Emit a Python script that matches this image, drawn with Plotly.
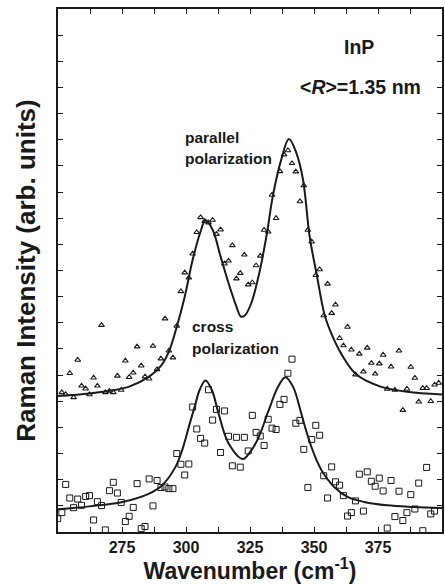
import plotly.graph_objects as go

# Raman shift grid shared by both measured spectra (cm^-1)
wavenumber = [
    249.9, 251.5, 253.0, 254.6, 256.1, 257.7, 259.2, 260.8, 262.3, 263.9,
    265.4, 267.0, 268.5, 270.1, 271.6, 273.2, 274.7, 276.3, 277.8, 279.4,
    280.9, 282.5, 284.0, 285.6, 287.1, 288.7, 290.2, 291.8, 293.3, 294.9,
    296.4, 298.0, 299.5, 301.1, 302.6, 304.2, 305.7, 307.3, 308.8, 310.4,
    311.9, 313.5, 315.0, 316.6, 318.1, 319.7, 321.2, 322.8, 324.3, 325.9,
    327.4, 329.0, 330.5, 332.1, 333.6, 335.2, 336.7, 338.3, 339.8, 341.4,
    342.9, 344.5, 346.0, 347.6, 349.1, 350.7, 352.2, 353.8, 355.3, 356.9,
    358.4, 360.0, 361.5, 363.1, 364.6, 366.2, 367.7, 369.3, 370.8, 372.4,
    373.9, 375.5, 377.0, 378.6, 380.1, 381.6, 383.2, 384.7, 386.3, 387.8,
    389.4, 390.9, 392.5, 394.0, 395.6, 397.1, 398.7,
]

# Parallel polarization spectrum (offset upward)
parallel = [
    None, 5.34, 5.26, 6.07, 5.15, 6.58, 5.59, 5.48, 5.26, 5.90,
    5.59, 7.91, 5.34, 5.39, 5.34, 5.97, 5.43, 6.55, 5.92, 6.09,
    7.09, 6.36, 5.94, 5.86, 7.11, 6.22, 6.63, 8.16, 6.93, 6.67,
    7.88, 9.20, 9.92, 9.72, 10.64, 11.46, 12.03, 11.89, 11.83, 11.93,
    11.39, 11.56, 10.26, 10.37, 10.96, 9.69, 9.90, 10.60, 9.46, 9.54,
    10.19, 10.56, 11.55, 11.48, 12.89, 12.00, 13.79, 14.43, 14.59, 14.10,
    13.78, 12.64, 13.25, 11.55, 11.10, 9.82, 10.04, 8.28, 9.49, 8.37,
    8.69, 7.41, 7.13, 7.84, 6.97, 6.02, 6.81, 6.13, 7.04, 6.46,
    6.05, 6.44, 6.77, 5.47, 6.32, 5.43, 6.93, 4.66, 5.47, 6.31,
    5.89, 4.98, 5.50, 5.50, 5.00, 5.63, 5.70,
]

# Cross polarization spectrum
cross = [
    0.51, 0.74, 1.82, 1.30, 0.93, 1.26, 1.02, 1.36, 1.39, 0.46,
    1.16, 1.01, 0.08, 1.58, 1.90, 1.49, 1.13, 0.40, 0.60, 0.94,
    1.85, 0.13, 0.21, 2.03, 1.00, 1.97, 1.70, 1.72, 1.66, 1.66,
    3.00, 2.59, 2.18, 2.60, 4.78, 3.94, 3.58, 3.40, 5.44, 4.28,
    4.69, 3.04, 4.63, 3.66, 2.53, 3.62, 2.48, 3.62, 3.10, 4.46,
    3.81, 3.67, 3.31, 4.31, 3.97, 3.92, 4.88, 5.07, 6.07, 6.61,
    4.16, 4.27, 3.16, 1.70, 3.54, 4.08, 3.70, 2.15, 1.30, 2.49,
    1.92, 1.79, 1.39, 0.61, 0.74, 1.19, 2.21, 0.80, 2.30, 1.94,
    1.75, 2.06, 1.57, 0.15, 1.97, 0.59, 1.56, 0.44, 0.74, 1.43,
    0.88, 1.87, 0.05, 2.47, 0.69, 0.80, None,
]

# Two-peak fitted line shapes
fit_par_x = [249.9, 262.3, 270.1, 277.8, 285.6, 290.2, 293.3, 296.4, 299.5, 302.6,
             305.7, 307.6, 310.4, 313.5, 316.6, 319.7, 321.4, 323.0, 325.5, 328.5,
             331.4, 334.0, 337.2, 340.2, 343.1, 345.7, 348.3, 351.1, 354.2, 357.3,
             360.5, 366.6, 376.0, 386.4, 400.0]
fit_par_y = [5.20, 5.30, 5.40, 5.56, 5.94, 6.35, 6.90, 7.85, 9.00, 10.41,
             11.49, 11.92, 11.56, 10.54, 9.52, 8.62, 8.24, 8.28, 8.75, 9.85,
             11.30, 12.89, 14.24, 15.03, 14.50, 13.48, 11.30, 9.82, 8.28, 7.47,
             6.84, 6.02, 5.56, 5.36, 5.26]

fit_crs_x = [250.0, 262.3, 275.2, 285.6, 290.7, 295.9, 298.5, 301.1, 303.7, 305.3,
             307.6, 310.1, 312.7, 316.6, 322.2, 325.0, 328.2, 332.1, 336.0, 338.8,
             341.8, 345.0, 347.0, 349.0, 351.0, 353.0, 357.9, 363.1, 369.6, 378.6,
             389.0, 400.0]
fit_crs_y = [0.87, 0.98, 1.15, 1.47, 1.79, 2.49, 3.13, 4.02, 4.90, 5.43,
             5.79, 5.43, 4.54, 3.39, 2.79, 3.05, 3.58, 4.60, 5.56, 5.92,
             5.56, 4.54, 3.85, 3.25, 2.75, 2.35, 1.72, 1.34, 1.15, 1.02,
             0.96, 0.92]

label_ticks = [275, 300, 325, 350, 375]

FONT = "Liberation Sans, Arial, Helvetica, sans-serif"
INK = "#1a1a1a"

fig = go.Figure()

fig.add_trace(go.Scatter(
    x=wavenumber, y=parallel, mode="markers",
    marker=dict(symbol="triangle-up-open", size=5, color=INK, line=dict(width=1.1)),
    showlegend=False, cliponaxis=True,
))
fig.add_trace(go.Scatter(
    x=wavenumber, y=cross, mode="markers",
    marker=dict(symbol="square-open", size=6, color=INK, line=dict(width=1)),
    showlegend=False, cliponaxis=True,
))
fig.add_trace(go.Scatter(
    x=fit_par_x, y=fit_par_y, mode="lines", line=dict(color=INK, width=2, shape="spline"),
    showlegend=False,
))
fig.add_trace(go.Scatter(
    x=fit_crs_x, y=fit_crs_y, mode="lines", line=dict(color=INK, width=2, shape="spline"),
    showlegend=False,
))

axis_common = dict(
    showline=True, linecolor=INK, linewidth=1.6, mirror="ticks",
    ticks="inside", ticklen=5, tickwidth=1.2, tickcolor=INK,
    showgrid=False, zeroline=False,
)

fig.update_xaxes(
    range=[250, 400], tickvals=label_ticks, ticktext=[f"<b>{v}</b>" for v in label_ticks],
    tickfont=dict(family=FONT, size=16, color=INK),
    minor=dict(dtick=12.5, tick0=250, ticks="inside", ticklen=5, tickwidth=1.2, tickcolor=INK),
    title=dict(text="<b>Wavenumber (cm<sup>-1</sup>)</b>",
               font=dict(family=FONT, size=23, color=INK), standoff=2),
    **axis_common,
)
fig.update_yaxes(
    range=[0, 20], dtick=1, showticklabels=False,
    title=dict(text="<b>Raman Intensity (arb. units)</b>",
               font=dict(family=FONT, size=26, color=INK), standoff=13),
    **axis_common,
)

# text placed by pixel position on the page
L, R, T, B = 58, 1, 9, 52
W, H = 445, 584
pw, ph = W - L - R, H - T - B

def px_to_paper(px, py):
    return (px - L) / pw, 1 - (py - T) / ph

labels = [
    ("<b>InP</b>", 361, 47, "center", 19.5),
    ("<b>&lt;<i>R</i>&gt;=1.35 nm</b>", 362, 87, "center", 19.5),
    ("<b>parallel</b>", 184, 137, "left", 15.5),
    ("<b>polarization</b>", 184, 158, "left", 15.5),
    ("<b>cross</b>", 191, 326, "left", 15.5),
    ("<b>polarization</b>", 191, 348, "left", 15.5),
]
for text, px, py, anchor, size in labels:
    xp, yp = px_to_paper(px, py)
    fig.add_annotation(
        x=xp, y=yp, xref="paper", yref="paper", text=text, showarrow=False,
        xanchor=anchor, yanchor="middle",
        font=dict(family=FONT, size=size, color=INK),
    )

fig.update_layout(
    width=W, height=H,
    margin=dict(l=L, r=R, t=T, b=B),
    paper_bgcolor="white", plot_bgcolor="white",
    font=dict(family=FONT, color=INK),
)

fig.write_html("out.html")
